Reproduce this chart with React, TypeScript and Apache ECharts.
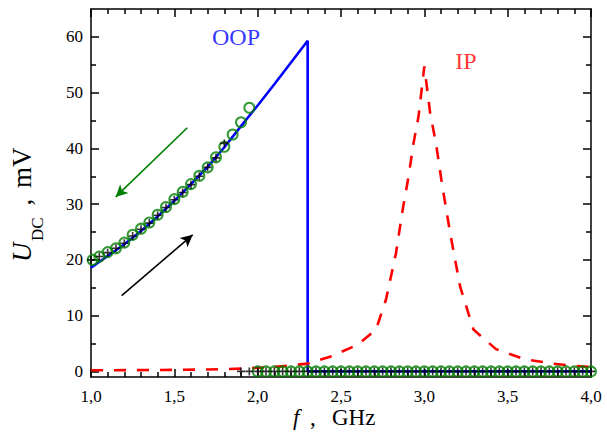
import React, { useEffect, useRef } from "react";
import * as echarts from "echarts";

// ---- data ----
// OOP simulated curve (blue solid): f [GHz], U [mV]
const oopCurve: [number, number][] = [
  [1.0, 18.6], [1.1, 20.7], [1.2, 22.8], [1.3, 25.2], [1.4, 27.8], [1.5, 30.6],
  [1.6, 33.6], [1.7, 36.7], [1.8, 40.2], [1.9, 44.0], [2.0, 47.7], [2.1, 51.5],
  [2.2, 55.4], [2.3, 59.3], [2.3, 0.0], [4.0, 0.0],
];
// IP simulated curve (red dashed)
const ipCurve: [number, number][] = [
  [1.0, 0.2], [1.4, 0.25], [1.7, 0.35], [1.9, 0.5], [2.1, 0.8], [2.3, 1.4],
  [2.45, 2.8], [2.6, 4.8], [2.71, 7.5], [2.77, 12.9], [2.83, 21.2], [2.87, 29.0],
  [2.905, 34.9], [2.935, 40.9], [2.965, 45.7], [3.0, 54.7], [3.035, 46.3],
  [3.07, 40.9], [3.105, 33.8], [3.155, 24.8], [3.215, 15.2], [3.295, 7.5],
  [3.43, 4.0], [3.6, 2.2], [3.77, 1.4], [3.9, 1.0], [4.0, 0.8],
];
// Sweep-down measurement (green circles), non-zero part
const downSweep: [number, number][] = [
  [1.01, 20.0], [1.05, 20.6], [1.1, 21.4], [1.15, 22.1], [1.2, 23.1], [1.25, 24.5],
  [1.3, 25.6], [1.35, 26.7], [1.4, 28.1], [1.45, 29.5], [1.5, 30.9], [1.55, 32.2],
  [1.6, 33.6], [1.65, 35.1], [1.7, 36.6], [1.75, 38.4], [1.8, 40.3], [1.85, 42.5],
  [1.9, 44.7], [1.95, 47.3],
];
// Sweep-down frequencies where U = 0
const downSweepZeroFreq: number[] = [
  2.0, 2.05, 2.1, 2.15, 2.2, 2.25, 2.3, 2.35, 2.4, 2.45, 2.5, 2.55, 2.6, 2.65,
  2.7, 2.75, 2.8, 2.85, 2.9, 2.95, 3.0, 3.05, 3.1, 3.15, 3.2, 3.25, 3.3, 3.35,
  3.4, 3.45, 3.5, 3.55, 3.6, 3.65, 3.7, 3.75, 3.8, 3.85, 3.9, 3.95, 4.0,
];
// Sweep-up measurement (black crosses), non-zero part
const upSweep: [number, number][] = [
  [1.0, 20.0], [1.05, 20.6], [1.1, 21.3], [1.15, 22.1], [1.2, 23.0], [1.25, 24.3],
  [1.3, 25.5], [1.35, 26.6], [1.4, 28.0], [1.45, 29.4], [1.5, 30.8], [1.55, 32.1],
  [1.6, 33.5], [1.65, 35.0], [1.7, 36.6], [1.75, 38.3], [1.8, 40.9],
];
// Sweep-up frequencies where U = 0
const upSweepZeroFreq: number[] = [
  1.9, 1.95, 2.0, 2.05, 2.1, 2.15, 2.2, 2.25, 2.3, 2.35, 2.4, 2.45, 2.5, 2.55,
  2.6, 2.65, 2.7, 2.75, 2.8, 2.85, 2.9, 2.95, 3.0, 3.05, 3.1, 3.15, 3.2, 3.25,
  3.3, 3.35, 3.4, 3.45, 3.5, 3.55, 3.6, 3.65, 3.7, 3.75, 3.8, 3.85, 3.9, 3.95, 4.0,
];
// Arrows (data coordinates, start -> end)
const downArrow: [number, number][] = [[1.578, 43.7], [1.148, 31.3]];
const upArrow: [number, number][] = [[1.184, 13.6], [1.61, 24.5]];
// Curve labels
const oopLabelPos: [number, number] = [1.87, 59.9];
const ipLabelPos: [number, number] = [3.25, 55.6];
// Axes
const yMajorTicks = [0, 10, 20, 30, 40, 50, 60];
const yMinorTicks = [5, 15, 25, 35, 45, 55];

const FONT = "Times New Roman";
const GREEN = "#008000";

export default function App() {
  const ref = useRef<HTMLDivElement>(null);
  useEffect(() => {
    if (!ref.current) return;
    const chart = echarts.init(ref.current, undefined, { renderer: "svg" });
    const axisLine = { show: true, onZero: false, lineStyle: { color: "#000", width: 1.5 } };
    const tickLine = { color: "#000", width: 1.5 };
    const xBase = {
      type: "value", min: 1, max: 4, interval: 0.5,
      axisLine,
      axisTick: { show: true, inside: true, length: 8, lineStyle: tickLine },
      minorTick: { show: true, splitNumber: 5, length: 5, lineStyle: tickLine },
      splitLine: { show: false }, minorSplitLine: { show: false },
    };
    const yBase = {
      type: "value", min: -1, max: 65,
      splitLine: { show: false },
    };
    const txt = (extra: any) => ({ fontFamily: FONT, fill: "#000", verticalAlign: "middle", align: "left", ...extra });
    const option: any = {
      animation: false,
      backgroundColor: "#fff",
      grid: { left: 91, right: 16, top: 9, bottom: 62 },
      xAxis: [
        {
          ...xBase, position: "bottom",
          axisLabel: {
            show: true, fontSize: 17, color: "#000", fontFamily: FONT, margin: 11,
            formatter: (v: number) => v.toFixed(1).replace(".", ","),
          },
        },
        { ...xBase, position: "top", axisLabel: { show: false } },
      ],
      yAxis: [
        {
          ...yBase, position: "left", axisLine,
          axisTick: { show: true, inside: true, length: 8, lineStyle: tickLine, customValues: yMajorTicks },
          axisLabel: {
            show: true, fontSize: 17, color: "#000", fontFamily: FONT, margin: 8,
            customValues: yMajorTicks, formatter: (v: number) => String(v),
          },
        },
        {
          ...yBase, position: "left", axisLine: { show: false },
          axisTick: { show: true, inside: true, length: 5, lineStyle: tickLine, customValues: yMinorTicks },
          axisLabel: { show: false },
        },
        {
          ...yBase, position: "right", axisLine,
          axisTick: { show: true, inside: true, length: 8, lineStyle: tickLine, customValues: yMajorTicks },
          axisLabel: { show: false },
        },
        {
          ...yBase, position: "right", axisLine: { show: false },
          axisTick: { show: true, inside: true, length: 5, lineStyle: tickLine, customValues: yMinorTicks },
          axisLabel: { show: false },
        },
      ],
      series: [
        {
          type: "line", data: oopCurve, showSymbol: false, symbol: "none",
          lineStyle: { color: "#0000ff", width: 2.6 }, z: 2,
        },
        {
          type: "line", data: ipCurve, showSymbol: false, symbol: "none",
          lineStyle: { color: "#ff0000", width: 2.6, type: [12, 11] }, z: 2,
        },
        {
          type: "scatter",
          data: [...downSweep, ...downSweepZeroFreq.map((f) => [f, 0])],
          symbol: "circle", symbolSize: 10,
          itemStyle: { color: "rgba(0,0,0,0)", borderColor: GREEN, borderWidth: 2 },
          z: 3,
        },
        {
          type: "scatter",
          data: [...upSweep, ...upSweepZeroFreq.map((f) => [f, 0])],
          symbol: "path://M4,0 H6 V4 H10 V6 H6 V10 H4 V6 H0 V4 H4 Z", symbolSize: 8,
          itemStyle: { color: "#000" },
          z: 4,
        },
        {
          type: "line", data: [], symbol: "none",
          markLine: {
            silent: true, symbol: ["none", "arrow"], symbolSize: [9, 12],
            label: { show: false },
            lineStyle: { type: "solid", width: 1.6, color: GREEN },
            data: [[{ coord: downArrow[0] }, { coord: downArrow[1] }]],
          },
        },
        {
          type: "line", data: [], symbol: "none",
          markLine: {
            silent: true, symbol: ["none", "arrow"], symbolSize: [9, 12],
            label: { show: false },
            lineStyle: { type: "solid", width: 1.6, color: "#000" },
            data: [[{ coord: upArrow[0] }, { coord: upArrow[1] }]],
          },
        },
        {
          type: "scatter", data: [oopLabelPos], symbolSize: 0, silent: true,
          label: { show: true, position: "inside", formatter: "OOP", color: "#0000ff", fontSize: 24, fontFamily: FONT },
        },
        {
          type: "scatter", data: [ipLabelPos], symbolSize: 0, silent: true,
          label: { show: true, position: "inside", formatter: "IP", color: "#ff0000", fontSize: 24, fontFamily: FONT },
        },
      ],
      graphic: [
        // x-axis title: "f , GHz"
        { type: "text", x: 293, y: 417.5, style: txt({ text: "f", fontSize: 23, fontStyle: "italic" }) },
        { type: "text", x: 310, y: 417.5, style: txt({ text: ",", fontSize: 23 }) },
        { type: "text", x: 332, y: 417.5, style: txt({ text: "GHz", fontSize: 23 }) },
        // y-axis title: "U_DC , mV" rotated
        {
          type: "group", x: 22, y: 262, rotation: Math.PI / 2,
          children: [
            { type: "text", x: 0, y: 0, style: txt({ text: "U", fontSize: 27, fontStyle: "italic" }) },
            { type: "text", x: 21, y: 15, style: txt({ text: "DC", fontSize: 17 }) },
            { type: "text", x: 60, y: 0, style: txt({ text: ",", fontSize: 27, align: "center" }) },
            { type: "text", x: 74, y: 0, style: txt({ text: "mV", fontSize: 27 }) },
          ],
        },
      ],
    };
    chart.setOption(option);
    return () => chart.dispose();
  }, []);
  return (
    <div
      ref={ref}
      style={{ position: "fixed", left: 0, top: 0, width: 607, height: 439 }}
    />
  );
}
